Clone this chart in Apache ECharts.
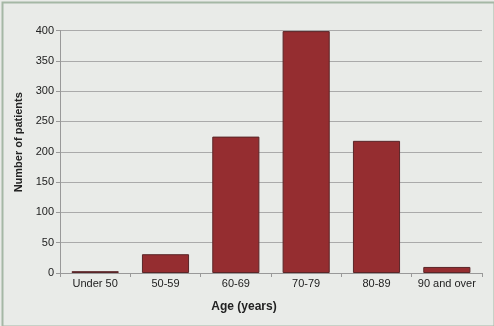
<!DOCTYPE html>
<html>
<head>
<meta charset="utf-8">
<script src="https://cdn.jsdelivr.net/npm/echarts@6/dist/echarts.min.js"></script>
<style>html,body{margin:0;padding:0;background:#e9ebe8;}#c{width:494px;height:326px;}</style>
</head>
<body>
<div id="c"></div>
<script>
var categories = ['Under 50', '50-59', '60-69', '70-79', '80-89', '90 and over'];
var patients = [3, 31, 225, 399, 218, 10];
var yTicks = [0, 50, 100, 150, 200, 250, 300, 350, 400];

var chart = echarts.init(document.getElementById('c'), null, {renderer: 'canvas'});
chart.setOption({
  backgroundColor: '#e9ebe8',
  animation: false,
  graphic: [{
    type: 'rect', left: 0, top: 0, z: -1,
    shape: {x: 1, y: 1, width: 492, height: 324},
    style: {fill: 'none', stroke: '#a5b8a5', lineWidth: 2}
  }],
  grid: {left: 60, right: 12, top: 30.5, bottom: 53},
  xAxis: {
    type: 'category',
    data: categories,
    name: 'Age (years)',
    nameLocation: 'middle',
    nameGap: 28,
    nameTextStyle: {fontFamily: 'Liberation Sans, Arial', fontSize: 12, fontWeight: 'bold', color: '#222', padding: [0, 54, 0, 0]},
    axisLine: {lineStyle: {color: '#999', width: 1}},
    axisTick: {show: true, length: 4, lineStyle: {color: '#999'}},
    axisLabel: {interval: 0, fontFamily: 'Liberation Sans, Arial', fontSize: 11, color: '#222', margin: 5}
  },
  yAxis: {
    type: 'value',
    min: 0, max: 400, interval: 50,
    name: 'Number of patients',
    nameLocation: 'middle',
    nameGap: 34,
    nameTextStyle: {fontFamily: 'Liberation Sans, Arial', fontSize: 11, fontWeight: 'bold', color: '#222', padding: [0, 0, 0, 19]},
    axisLine: {show: true, lineStyle: {color: '#999', width: 1}},
    axisTick: {show: true, length: 4, lineStyle: {color: '#999'}},
    axisLabel: {fontFamily: 'Liberation Sans, Arial', fontSize: 11, color: '#222', margin: 6,
      formatter: function (v) { return yTicks.indexOf(v) >= 0 ? String(v) : ''; }},
    splitLine: {show: true, lineStyle: {color: '#aaa', width: 1}}
  },
  series: [{
    type: 'bar',
    data: patients,
    barWidth: '67%',
    itemStyle: {color: '#952d30', borderColor: '#5a2628', borderWidth: 1}
  }]
});
</script>
</body>
</html>
